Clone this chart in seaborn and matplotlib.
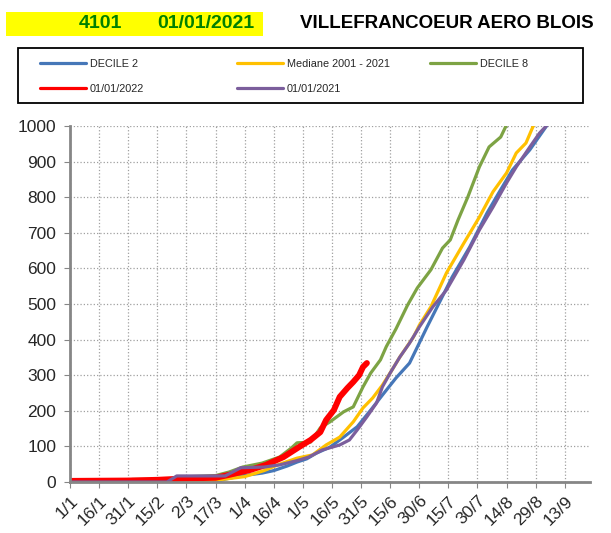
import matplotlib
matplotlib.use("Agg")
import matplotlib.pyplot as plt
from matplotlib.patches import Rectangle
from matplotlib.lines import Line2D
import pandas as pd
import seaborn as sns

# day of year (0 = 1/1) and cumulative values
decile2_days = [0, 75, 80, 88, 99, 105, 112, 117, 122, 127, 134, 141, 148, 155, 161, 168, 175, 180,
                184, 190, 197, 206, 215, 221, 228, 237, 246]
decile2_vals = [0, 0, 8, 17, 25, 32, 45, 56, 65, 81, 98, 126, 155, 202, 244, 292, 334, 390,
                435, 500, 576, 660, 756, 812, 876, 933, 1003]

median_days = [0, 60, 75, 90, 100, 108, 117, 125, 132, 139, 146, 151, 156, 161, 166, 170, 177, 180,
               186, 194, 203, 211, 218, 225, 230, 235, 239]
median_vals = [0, 2, 5, 15, 32, 50, 67, 76, 104, 126, 169, 208, 236, 272, 315, 351, 407, 440,
               492, 587, 671, 744, 815, 868, 924, 952, 1003]

decile8_days = [0, 28, 32, 58, 62, 75, 82, 89, 99, 108, 114, 117, 124, 129, 134, 141, 146, 151, 155,
                160, 163, 168, 174, 179, 186, 192, 196, 200, 205, 211, 216, 222, 225]
decile8_vals = [0, 0, 7, 8, 15, 18, 28, 42, 53, 70, 95, 110, 112, 152, 169, 197, 211, 267, 306,
                343, 380, 430, 497, 545, 596, 657, 680, 736, 800, 885, 941, 969, 1003]

y2022_days = [0, 30, 45, 60, 75, 82, 93, 101, 110, 118, 124, 129, 132, 136, 139, 143, 146, 149, 151, 153]
y2022_vals = [3, 4, 6, 10, 12, 20, 34, 48, 70, 98, 118, 140, 174, 202, 239, 264, 281, 300, 323, 334]

y2021_days = [0, 50, 55, 80, 88, 100, 108, 117, 123, 130, 139, 144, 148, 153, 158, 161, 165, 170, 175,
              180, 187, 194, 203, 211, 218, 225, 230, 237, 242, 246]
y2021_vals = [0, 0, 17, 17, 40, 42, 48, 60, 70, 90, 104, 118, 146, 183, 222, 267, 306, 351, 390,
              435, 492, 539, 624, 708, 772, 840, 885, 941, 980, 1003]

tick_days = [0, 15, 30, 45, 60, 75, 90, 105, 120, 135, 150, 165, 180, 195, 210, 225, 240, 255]
tick_labels = ["1/1", "16/1", "31/1", "15/2", "2/3", "17/3", "1/4", "16/4", "1/5", "16/5", "31/5",
               "15/6", "30/6", "15/7", "30/7", "14/8", "29/8", "13/9"]

sns.set_style("white")
plt.rcParams["font.family"] = ["Liberation Sans", "DejaVu Sans"]

fig = plt.figure(figsize=(6.11, 5.33), dpi=100)
ax = fig.add_axes([0.1146, 0.0957, 0.851, 0.668])

series = [
    ("DECILE 2", decile2_days, decile2_vals, "#4677B8", 2.3),
    ("Mediane 2001 - 2021", median_days, median_vals, "#FFC000", 2.3),
    ("DECILE 8", decile8_days, decile8_vals, "#7DA344", 2.3),
    ("01/01/2022", y2022_days, y2022_vals, "#FF0000", 4.3),
    ("01/01/2021", y2021_days, y2021_vals, "#7B5E9C", 2.3),
]
colors = {}
for name, d, v, col, lw in series:
    df = pd.DataFrame({"day": d, "val": v})
    sns.lineplot(data=df, x="day", y="val", ax=ax, color=col, linewidth=lw,
                 solid_capstyle="round", solid_joinstyle="round")
    colors[name] = col

ax.set_xlim(0, 268)
ax.set_ylim(0, 1000)
ax.set_xticks(tick_days)
ax.set_xticklabels(tick_labels, rotation=45, ha="right", rotation_mode="anchor", fontsize=12.5)
ax.set_yticks(range(0, 1001, 100))
ax.tick_params(axis="y", labelsize=12.5, length=4, color="#868686", direction="out", left=True, pad=6)
ax.tick_params(axis="x", length=4, color="#868686", direction="out", bottom=True, pad=4)
ax.set_xlabel("")
ax.set_ylabel("")
ax.grid(True, linestyle=":", color="#a0a0a0", linewidth=0.9)
for s in ["top", "right"]:
    ax.spines[s].set_visible(False)
for s in ["left", "bottom"]:
    ax.spines[s].set_color("#868686")
    ax.spines[s].set_linewidth(2)

# legend: black frame with three columns
fig.patches.append(Rectangle((0.0295, 0.8068), 0.9247, 0.1032, transform=fig.transFigure,
                             facecolor="white", edgecolor="black", linewidth=1.3))
columns = [(0.0655, ["DECILE 2", "01/01/2022"]),
           (0.388, ["Mediane 2001 - 2021", "01/01/2021"]),
           (0.704, ["DECILE 8"])]
for x0, names in columns:
    hs = [Line2D([], [], color=colors[n], linewidth=2.3) for n in names]
    lg = fig.legend(hs, names, loc="upper left", bbox_to_anchor=(x0, 0.889), frameon=False,
                    fontsize=7.8, handlelength=4.2, handletextpad=0.4, borderpad=0,
                    borderaxespad=0, labelspacing=1.35)

fig.patches.append(Rectangle((0.0098, 0.9325), 0.4206, 0.045, transform=fig.transFigure,
                             facecolor="#FFFF00", edgecolor="none", zorder=0))
fig.text(0.164, 0.955, "4101", color="#008000", fontsize=14, fontweight="bold", ha="center", va="center")
fig.text(0.337, 0.955, "01/01/2021", color="#008000", fontsize=14, fontweight="bold", ha="center", va="center")
fig.text(0.732, 0.955, "VILLEFRANCOEUR AERO BLOIS", color="black", fontsize=13.5, fontweight="bold",
         ha="center", va="center")

fig.savefig("out.png", dpi=100)
